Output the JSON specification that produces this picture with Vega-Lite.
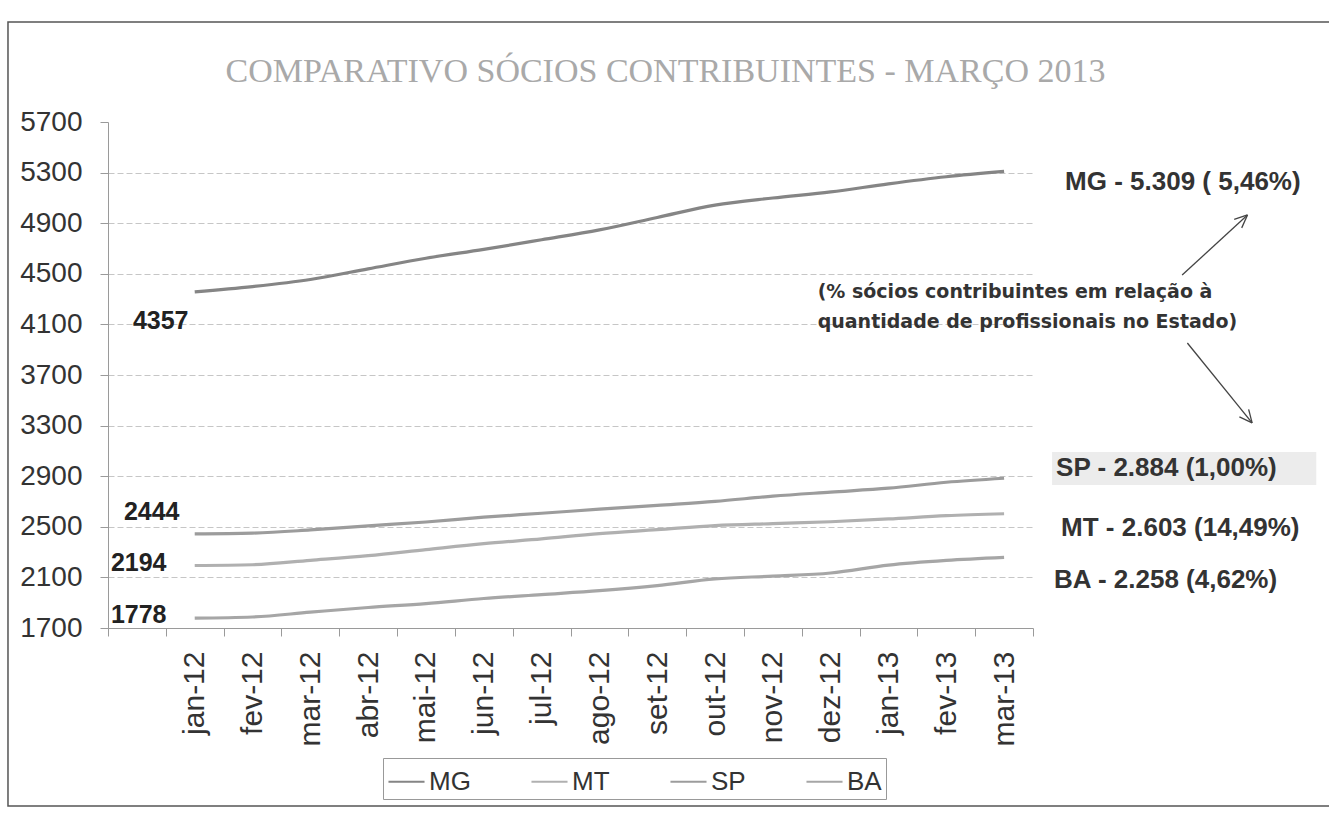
{
  "$schema": "https://vega.github.io/schema/vega-lite/v6.json",
  "width": 925,
  "height": 506,
  "autosize": {"type": "none"},
  "padding": {"left": 108, "top": 122, "right": 296, "bottom": 186},
  "background": "white",
  "title": {
    "text": "COMPARATIVO SÓCIOS CONTRIBUINTES - MARÇO 2013",
    "font": "Liberation Serif",
    "fontSize": 34,
    "fontWeight": "normal",
    "color": "#a9a9a9",
    "anchor": "middle",
    "baseline": "bottom",
    "offset": 22,
    "dx": 95,
    "dy": 124
  },
  "datasets": {
    "main": [
      {"month": "jan-12", "series": "MG", "value": 4357},
      {"month": "fev-12", "series": "MG", "value": 4399},
      {"month": "mar-12", "series": "MG", "value": 4455},
      {"month": "abr-12", "series": "MG", "value": 4539},
      {"month": "mai-12", "series": "MG", "value": 4623},
      {"month": "jun-12", "series": "MG", "value": 4693},
      {"month": "jul-12", "series": "MG", "value": 4769},
      {"month": "ago-12", "series": "MG", "value": 4847},
      {"month": "set-12", "series": "MG", "value": 4945},
      {"month": "out-12", "series": "MG", "value": 5043},
      {"month": "nov-12", "series": "MG", "value": 5099},
      {"month": "dez-12", "series": "MG", "value": 5147},
      {"month": "jan-13", "series": "MG", "value": 5211},
      {"month": "fev-13", "series": "MG", "value": 5267},
      {"month": "mar-13", "series": "MG", "value": 5309},
      {"month": "jan-12", "series": "MT", "value": 2194},
      {"month": "fev-12", "series": "MT", "value": 2200},
      {"month": "mar-12", "series": "MT", "value": 2235},
      {"month": "abr-12", "series": "MT", "value": 2272},
      {"month": "mai-12", "series": "MT", "value": 2320},
      {"month": "jun-12", "series": "MT", "value": 2367},
      {"month": "jul-12", "series": "MT", "value": 2405},
      {"month": "ago-12", "series": "MT", "value": 2446},
      {"month": "set-12", "series": "MT", "value": 2477},
      {"month": "out-12", "series": "MT", "value": 2509},
      {"month": "nov-12", "series": "MT", "value": 2525},
      {"month": "dez-12", "series": "MT", "value": 2540},
      {"month": "jan-13", "series": "MT", "value": 2562},
      {"month": "fev-13", "series": "MT", "value": 2588},
      {"month": "mar-13", "series": "MT", "value": 2603},
      {"month": "jan-12", "series": "SP", "value": 2444},
      {"month": "fev-12", "series": "SP", "value": 2450},
      {"month": "mar-12", "series": "SP", "value": 2475},
      {"month": "abr-12", "series": "SP", "value": 2507},
      {"month": "mai-12", "series": "SP", "value": 2538},
      {"month": "jun-12", "series": "SP", "value": 2576},
      {"month": "jul-12", "series": "SP", "value": 2607},
      {"month": "ago-12", "series": "SP", "value": 2639},
      {"month": "set-12", "series": "SP", "value": 2670},
      {"month": "out-12", "series": "SP", "value": 2701},
      {"month": "nov-12", "series": "SP", "value": 2742},
      {"month": "dez-12", "series": "SP", "value": 2774},
      {"month": "jan-13", "series": "SP", "value": 2805},
      {"month": "fev-13", "series": "SP", "value": 2852},
      {"month": "mar-13", "series": "SP", "value": 2884},
      {"month": "jan-12", "series": "BA", "value": 1778},
      {"month": "fev-12", "series": "BA", "value": 1787},
      {"month": "mar-12", "series": "BA", "value": 1825},
      {"month": "abr-12", "series": "BA", "value": 1862},
      {"month": "mai-12", "series": "BA", "value": 1893},
      {"month": "jun-12", "series": "BA", "value": 1933},
      {"month": "jul-12", "series": "BA", "value": 1964},
      {"month": "ago-12", "series": "BA", "value": 1995},
      {"month": "set-12", "series": "BA", "value": 2035},
      {"month": "out-12", "series": "BA", "value": 2088},
      {"month": "nov-12", "series": "BA", "value": 2110},
      {"month": "dez-12", "series": "BA", "value": 2135},
      {"month": "jan-13", "series": "BA", "value": 2197},
      {"month": "fev-13", "series": "BA", "value": 2234},
      {"month": "mar-13", "series": "BA", "value": 2258}
    ],
    "notes": [
      {"series": "MG", "month": "mar-13", "value": 5309, "note": "MG - 5.309 ( 5,46%)"},
      {"series": "SP", "month": "mar-13", "value": 2884, "note": "SP - 2.884 (1,00%)"},
      {"series": "MT", "month": "mar-13", "value": 2603, "note": "MT - 2.603 (14,49%)"},
      {"series": "BA", "month": "mar-13", "value": 2258, "note": "BA - 2.258 (4,62%)"}
    ]
  },
  "data": {"name": "main"},
  "resolve": {"scale": {"x": "independent"}, "axis": {"x": "independent"}},
  "layer": [
    {
      "data": {"values": [{}]},
      "layer": [
        {
          "mark": {"type": "rect", "fill": null, "stroke": "#555", "strokeWidth": 1.5},
          "encoding": {
            "x": {"datum": -1.73, "type": "quantitative", "scale": {"domain": [0, 16], "nice": false, "zero": false}, "axis": null},
            "x2": {"datum": 21.3},
            "y": {"datum": 6490, "type": "quantitative"},
            "y2": {"datum": 293}
          }
        },
        {
          "mark": {"type": "rect", "fill": "#ececec"},
          "encoding": {
            "x": {"datum": 16.33, "type": "quantitative", "scale": {"domain": [0, 16], "nice": false, "zero": false}, "axis": null},
            "x2": {"datum": 20.9},
            "y": {"datum": 3091, "type": "quantitative"},
            "y2": {"datum": 2830}
          }
        },
        {
          "mark": {"type": "rule", "stroke": "#444", "strokeWidth": 1.3},
          "encoding": {
            "x": {"datum": 18.58, "type": "quantitative", "scale": {"domain": [0, 16], "nice": false, "zero": false}, "axis": null},
            "x2": {"datum": 19.71},
            "y": {"datum": 4490, "type": "quantitative"},
            "y2": {"datum": 4965}
          }
        },
        {
          "mark": {"type": "rule", "stroke": "#444", "strokeWidth": 1.3},
          "encoding": {
            "x": {"datum": 19.71, "type": "quantitative", "scale": {"domain": [0, 16], "nice": false, "zero": false}, "axis": null},
            "x2": {"datum": 19.48},
            "y": {"datum": 4965, "type": "quantitative"},
            "y2": {"datum": 4931}
          }
        },
        {
          "mark": {"type": "rule", "stroke": "#444", "strokeWidth": 1.3},
          "encoding": {
            "x": {"datum": 19.71, "type": "quantitative", "scale": {"domain": [0, 16], "nice": false, "zero": false}, "axis": null},
            "x2": {"datum": 19.61},
            "y": {"datum": 4965, "type": "quantitative"},
            "y2": {"datum": 4863}
          }
        },
        {
          "mark": {"type": "rule", "stroke": "#444", "strokeWidth": 1.3},
          "encoding": {
            "x": {"datum": 18.67, "type": "quantitative", "scale": {"domain": [0, 16], "nice": false, "zero": false}, "axis": null},
            "x2": {"datum": 19.79},
            "y": {"datum": 3953, "type": "quantitative"},
            "y2": {"datum": 3321}
          }
        },
        {
          "mark": {"type": "rule", "stroke": "#444", "strokeWidth": 1.3},
          "encoding": {
            "x": {"datum": 19.79, "type": "quantitative", "scale": {"domain": [0, 16], "nice": false, "zero": false}, "axis": null},
            "x2": {"datum": 19.73},
            "y": {"datum": 3321, "type": "quantitative"},
            "y2": {"datum": 3428}
          }
        },
        {
          "mark": {"type": "rule", "stroke": "#444", "strokeWidth": 1.3},
          "encoding": {
            "x": {"datum": 19.79, "type": "quantitative", "scale": {"domain": [0, 16], "nice": false, "zero": false}, "axis": null},
            "x2": {"datum": 19.57},
            "y": {"datum": 3321, "type": "quantitative"},
            "y2": {"datum": 3369}
          }
        }
      ]
    },
    {
      "encoding": {
        "x": {
          "field": "month",
          "type": "ordinal",
          "scale": {
            "type": "band",
            "domain": ["", "jan-12", "fev-12", "mar-12", "abr-12", "mai-12", "jun-12", "jul-12", "ago-12", "set-12", "out-12", "nov-12", "dez-12", "jan-13", "fev-13", "mar-13"],
            "paddingInner": 0,
            "paddingOuter": 0
          },
          "axis": {
            "title": null,
            "labelAngle": -90,
            "tickBand": "extent",
            "labelFont": "Liberation Sans",
            "labelFontSize": 30,
            "labelColor": "#333",
            "labelPadding": 15,
            "tickSize": 8,
            "tickColor": "#9a9a9a",
            "domainColor": "#9a9a9a",
            "grid": false
          }
        },
        "y": {
          "field": "value",
          "type": "quantitative",
          "scale": {"domain": [1700, 5700], "nice": false, "zero": false},
          "axis": {
            "title": null,
            "format": "d",
            "values": [1700, 2100, 2500, 2900, 3300, 3700, 4100, 4500, 4900, 5300, 5700],
            "labelFont": "Liberation Sans",
            "labelFontSize": 28,
            "labelColor": "#333",
            "labelPadding": 18,
            "tickSize": 8,
            "tickColor": "#9a9a9a",
            "domainColor": "#9a9a9a",
            "grid": true,
            "gridColor": "#c6c6c6",
            "gridDash": [6, 3],
            "gridOpacity": {"condition": {"test": "datum.value === 5700", "value": 0}, "value": 1}
          }
        }
      },
      "layer": [
        {
          "mark": {"type": "line", "interpolate": "monotone", "strokeWidth": 3.2},
          "encoding": {
            "color": {
              "field": "series",
              "type": "nominal",
              "scale": {"domain": ["MG", "MT", "SP", "BA"], "range": ["#858585", "#b0b0b0", "#9c9c9c", "#a6a6a6"]},
              "legend": {
                "title": null,
                "orient": "none",
                "legendX": 275,
                "legendY": 636,
                "direction": "horizontal",
                "columns": 4,
                "strokeColor": "#999",
                "padding": 4,
                "columnPadding": 56,
                "symbolType": "stroke",
                "symbolSize": 1300,
                "symbolStrokeWidth": 2,
                "labelFont": "Liberation Sans",
                "labelFontSize": 26,
                "labelColor": "#333",
                "labelOffset": 3
              }
            }
          }
        },
        {
          "transform": [{"filter": "datum.series === 'MG' && datum.month === 'jan-12'"}],
          "mark": {"type": "text", "font": "Liberation Sans", "fontWeight": "bold", "fontSize": 25, "color": "#222", "dx": -34, "dy": 29},
          "encoding": {"text": {"field": "value", "type": "nominal"}}
        },
        {
          "transform": [{"filter": "datum.series === 'SP' && datum.month === 'jan-12'"}],
          "mark": {"type": "text", "font": "Liberation Sans", "fontWeight": "bold", "fontSize": 25, "color": "#222", "dx": -43, "dy": -22},
          "encoding": {"text": {"field": "value", "type": "nominal"}}
        },
        {
          "transform": [{"filter": "(datum.series === 'MT' || datum.series === 'BA') && datum.month === 'jan-12'"}],
          "mark": {"type": "text", "font": "Liberation Sans", "fontWeight": "bold", "fontSize": 25, "color": "#222", "dx": -56, "dy": -3},
          "encoding": {"text": {"field": "value", "type": "nominal"}}
        },
        {
          "data": {"name": "notes"},
          "transform": [{"filter": "datum.series === 'MG'"}],
          "mark": {"type": "text", "align": "left", "font": "Liberation Sans", "fontWeight": "bold", "fontSize": 26, "color": "#333", "dx": 61, "dy": 11},
          "encoding": {"text": {"field": "note", "type": "nominal"}}
        },
        {
          "data": {"name": "notes"},
          "transform": [{"filter": "datum.series === 'SP'"}],
          "mark": {"type": "text", "align": "left", "font": "Liberation Sans", "fontWeight": "bold", "fontSize": 26, "color": "#333", "dx": 52, "dy": -10},
          "encoding": {"text": {"field": "note", "type": "nominal"}}
        },
        {
          "data": {"name": "notes"},
          "transform": [{"filter": "datum.series === 'MT'"}],
          "mark": {"type": "text", "align": "left", "font": "Liberation Sans", "fontWeight": "bold", "fontSize": 26, "color": "#333", "dx": 57, "dy": 14},
          "encoding": {"text": {"field": "note", "type": "nominal"}}
        },
        {
          "data": {"name": "notes"},
          "transform": [{"filter": "datum.series === 'BA'"}],
          "mark": {"type": "text", "align": "left", "font": "Liberation Sans", "fontWeight": "bold", "fontSize": 26, "color": "#333", "dx": 50, "dy": 23},
          "encoding": {"text": {"field": "note", "type": "nominal"}}
        },
        {
          "transform": [{"filter": "datum.series === 'MG' && datum.month === 'dez-12'"}],
          "mark": {
            "type": "text",
            "align": "left",
            "baseline": "middle",
            "font": "DejaVu Sans",
            "fontWeight": "bold",
            "fontSize": 19,
            "lineHeight": 30,
            "color": "#333",
            "dx": -13,
            "text": ["(% sócios contribuintes em relação à", "quantidade de profissionais no Estado)"]
          },
          "encoding": {
            "y": {"datum": 4356, "type": "quantitative"}
          }
        }
      ]
    }
  ],
  "config": {
    "view": {"stroke": null},
    "font": "Liberation Sans"
  }
}
